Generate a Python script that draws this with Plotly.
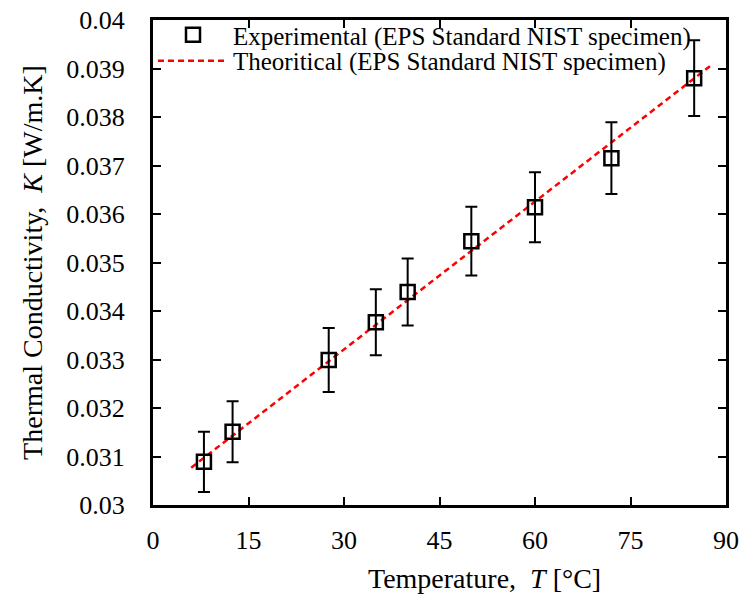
import plotly.graph_objects as go

# Data
temp_exp = [8, 12.5, 27.6, 35, 40, 50, 60, 72, 85]
k_exp = [0.03089, 0.03151, 0.03299, 0.03377, 0.03439, 0.03544, 0.03614, 0.03715, 0.03880]
k_err = [0.00062, 0.00063, 0.00066, 0.00068, 0.00069, 0.00071, 0.00072, 0.00074, 0.00078]

temp_theo = [6, 88]
k_theo = [0.03077, 0.03910]

x_ticks = [0, 15, 30, 45, 60, 75, 90]
x_ticklabels = ["0", "15", "30", "45", "60", "75", "90"]
y_ticks = [0.03, 0.031, 0.032, 0.033, 0.034, 0.035, 0.036, 0.037, 0.038, 0.039, 0.04]
y_ticklabels = ["0.03", "0.031", "0.032", "0.033", "0.034", "0.035", "0.036",
                "0.037", "0.038", "0.039", "0.04"]

FONT = "Liberation Serif"

fig = go.Figure()
fig.add_trace(go.Scatter(
    x=temp_theo, y=k_theo, mode="lines",
    name="Theoritical (EPS Standard NIST specimen)",
    line=dict(color="#ff0000", width=2.5, dash="6px,4px"),
    legend="legend2",
))
fig.add_trace(go.Scatter(
    x=temp_exp, y=k_exp, mode="markers",
    name="Experimental (EPS Standard NIST specimen)",
    marker=dict(symbol="square-open", size=14, color="black", line=dict(width=2.5, color="black")),
    error_y=dict(type="data", array=k_err, visible=True, color="black", thickness=2, width=6),
    legend="legend",
))

axis_common = dict(
    showgrid=False, zeroline=False, showline=True, linecolor="black", linewidth=3,
    ticks="inside", ticklen=8, tickwidth=2, tickcolor="black", mirror="ticks",
    tickfont=dict(family=FONT, size=26, color="black"),
    automargin=False,
)

fig.update_layout(
    width=743, height=600,
    margin=dict(l=153, r=17, t=20, b=95),
    plot_bgcolor="white", paper_bgcolor="white",
    font=dict(family=FONT, size=26, color="black"),
    xaxis=dict(range=[0, 90], tickvals=x_ticks, ticktext=x_ticklabels,
               ticklabelstandoff=10,
               **axis_common),
    yaxis=dict(range=[0.03, 0.04], tickvals=y_ticks, ticktext=y_ticklabels,
               ticklabelstandoff=20,
               title=dict(text="Thermal Conductivity,\u00a0 <i>K</i> [W/m.K]", standoff=16,
                          font=dict(family=FONT, size=28, color="black")),
               **axis_common),
    legend=dict(x=0.0, y=0.969, xanchor="left", yanchor="middle",
                bgcolor="rgba(0,0,0,0)", itemwidth=70,
                font=dict(family=FONT, size=25, color="black")),
    legend2=dict(x=0.0, y=0.9155, xanchor="left", yanchor="middle",
                 bgcolor="rgba(0,0,0,0)", itemwidth=70,
                 font=dict(family=FONT, size=25, color="black")),
    showlegend=True,
    annotations=[dict(
        text="Temperature,\u00a0 <i>T</i> [°C]", xref="paper", yref="paper",
        x=0.579, y=-0.151, xanchor="center", yanchor="middle", showarrow=False,
        font=dict(family=FONT, size=28, color="black"),
    )],
)

fig.write_html("out.html")
